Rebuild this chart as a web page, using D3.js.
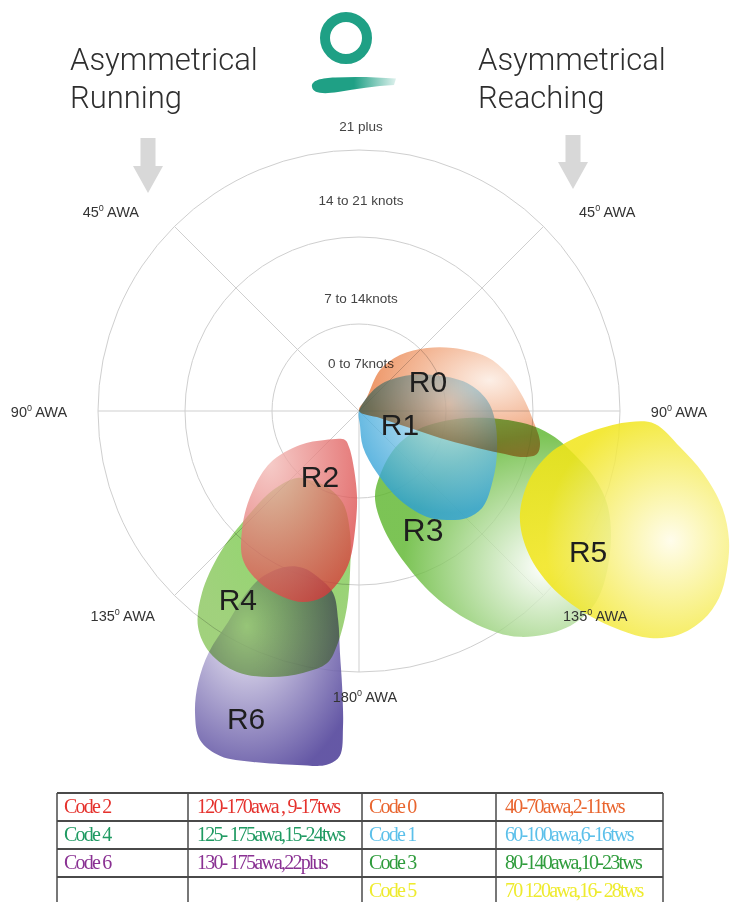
<!DOCTYPE html>
<html>
<head>
<meta charset="utf-8">
<script src="https://cdn.jsdelivr.net/npm/d3@7"></script>
<style>
  body { margin: 0; background: #fff; }
  svg { display: block; }
</style>
</head>
<body>
<div id="chart"></div>
<script>
var svgWidth = 730;
var svgHeight = 902;

// polar chart centre and speed scale (knots -> px)
var cx = 359, cy = 411;

// ---- data ----
var rings = [7, 14, 21];
var ringLabels = ["0 to 7knots", "7 to 14knots", "14 to 21 knots", "21 plus"];
var spokes = [45, 90, 135, 180];
var awaTicks = ["45", "90", "135", "180"];

var codes = ["R0", "R1", "R2", "R3", "R4", "R5", "R6"];
// +1 = reaching side (right), -1 = running side (left)
var sides = [1, 1, -1, 1, -1, 1, -1];

// region outlines as [awa deg, tws knots]
var r0Shape = [[90, 0], [29.7, 1.3], [27.1, 3.7], [36.2, 5.58], [47.2, 7.46], [56.2, 9.1], [67.1, 11.18],
  [75.6, 12.29], [85.1, 13.24], [93, 14.02], [100, 14.79], [103.6, 14.73], [105.5, 13.86],
  [106.6, 11.84], [107.5, 9.36], [108.4, 6.87], [108.4, 4.33], [108.4, 1.78]];
var r1Shape = [[90, 0], [36.9, 2.41], [50.3, 4.28], [64.1, 6.62], [75.5, 8.98], [85.1, 10.33], [93.8, 10.96],
  [106.9, 11.6], [117.2, 12.12], [127.7, 12.61], [134.7, 12.23], [141.1, 11.27], [147.3, 10.13],
  [155.3, 7.88], [163.8, 5.2], [173.7, 2.91], [176, 1.13]];
var r2Shape = [[154.2, 2.59], [130.5, 3.6], [120, 5.48], [120.3, 8.29], [128.3, 11.17], [135.5, 13.43],
  [142.1, 15.19], [150.1, 15.97], [157.8, 16.16], [163.7, 16.01], [169.05, 15.24], [173.6, 13.68],
  [176.5, 12.01], [178.1, 9.58], [178.7, 6.92], [173.4, 4.21], [164.5, 3.01]];
var r3Shape = [[108.1, 4.91], [97.7, 6.58], [93.7, 8.71], [93.2, 11.36], [94.9, 14.05], [97.6, 15.91],
  [101.5, 17.73], [105.7, 19.64], [111.1, 21.47], [119.5, 23.2], [128.9, 24.49], [136.3, 24.13],
  [144.5, 22.32], [150.3, 20.0], [157.1, 16.51], [163.2, 12.78], [168.3, 9.53], [169.5, 7.04],
  [161.8, 5.42], [135.8, 4.15]];
var r4Shape = [[137.2, 7.34], [132.6, 9.4], [133.4, 12.41], [135.6, 15.99], [139.2, 19.34], [143.3, 21.67],
  [148.4, 22.86], [154.95, 23.18], [161.5, 22.57], [167.9, 21.55], [172.8, 20.44], [174.8, 18.74],
  [176.5, 15.8], [176.8, 12.81], [175.8, 9.84], [170.1, 7.51], [157.2, 6.63], [144.6, 6.81]];
var r5Shape = [[122.9, 15.42], [111.4, 14.78], [103.1, 15.61], [98.5, 16.92], [94.6, 19.05], [92.3, 21.82],
  [92.5, 23.84], [96.4, 25.99], [100.2, 28.12], [104.8, 30.21], [109.2, 31.52], [113.4, 32.25],
  [117.4, 32.64], [121.3, 32.38], [125.1, 31.36], [127.95, 29.69], [130, 27.41], [132, 23.93],
  [132.3, 20.56], [129.6, 17.54]];
var r6Shape = [[154.6, 13.89], [149.7, 15.47], [148.2, 17.41], [148.2, 19.98], [148.1, 22.84], [149.4, 25.43],
  [151.5, 27.65], [154.2, 29.4], [158.1, 29.92], [163.2, 29.5], [170.1, 28.91], [174.8, 28.59],
  [176.8, 27.8], [177.1, 25.45], [176.5, 22.24], [175.5, 19.53], [174.3, 16.9], [171.9, 14.79],
  [166.1, 13.76], [160.4, 13.41]];
var shapes = [r0Shape, r1Shape, r2Shape, r3Shape, r4Shape, r5Shape, r6Shape];

// label anchor of each region [awa, tws]
var labelPoints = [[66.5, 6.05], [107.6, 3.46], [149, 6.1], [151.7, 10.87], [147.2, 17.99], [121.4, 21.6], [159.8, 26.32]];

var tableCodes = ["Code 2", "Code 4", "Code 6", "", "Code 0", "Code 1", "Code 3", "Code 5"];
var tableRanges = ["120-170awa , 9-17tws", "125- 175awa,15-24tws", "130- 175awa,22plus", "",
  "40-70awa,2-11tws", "60-100awa,6-16tws", "80-140awa,10-23tws", "70 120awa,16- 28tws"];

// ---- styles ----
var regionColors = {
  R0: ["#fcebe0", "#e8773a"],
  R1: ["#d6eef9", "#2d9fd6"],
  R2: ["#f3bcb8", "#d93a3a"],
  R3: ["#ffffff", "#5bb52b"],
  R4: ["#74cf48", "#8cc760"],
  R5: ["#fffce8", "#f1e518"],
  R6: ["#f0edf7", "#4a3b96"]
};
var gradCentres = {
  R0: [0.72, 0.3, 0.7], R1: [0.65, 0.2, 0.75], R2: [0.25, 0.15, 0.95], R3: [0.72, 0.68, 0.6],
  R4: [0.65, 0.15, 0.75], R5: [0.72, 0.55, 0.6], R6: [0.35, 0.3, 0.8]
};
var regionOpacity = { R0: 0.8, R1: 0.8, R2: 0.78, R3: 0.8, R4: 0.82, R5: 0.85, R6: 0.85 };
var regionBlend = { R0: "multiply", R1: "normal", R2: "normal", R3: "normal", R4: "multiply", R5: "normal", R6: "normal" };
var tableColors = ["#e5322d", "#1f9a62", "#8a3193", "#000", "#e9652f", "#5cc0ea", "#2f9c3c", "#eeeb2e"];

var rScale = d3.scaleLinear().domain([0, 21]).range([0, 261]);
var rad = Math.PI / 180;

var svg = d3.select("#chart")
  .append("svg")
  .attr("width", svgWidth)
  .attr("height", svgHeight);

var defs = svg.append("defs");

// titles
var titles = [["Asymmetrical", "Running", 70], ["Asymmetrical", "Reaching", 478]];
titles.forEach(function(t) {
  var tx = svg.append("text")
    .attr("x", t[2])
    .attr("y", 70)
    .attr("font-family", "Roboto, sans-serif")
    .attr("font-weight", 300)
    .attr("font-size", 31)
    .attr("fill", "#2e2e2e");
  tx.append("tspan").attr("x", t[2]).text(t[0]);
  tx.append("tspan").attr("x", t[2]).attr("dy", 38).text(t[1]);
});

// logo
svg.append("circle")
  .attr("cx", 346).attr("cy", 38).attr("r", 21)
  .attr("fill", "none").attr("stroke", "#1fa085").attr("stroke-width", 10);
var brushGrad = defs.append("linearGradient").attr("id", "brush");
brushGrad.append("stop").attr("offset", "0").attr("stop-color", "#1fa085");
brushGrad.append("stop").attr("offset", "0.5").attr("stop-color", "#1fa085");
brushGrad.append("stop").attr("offset", "1").attr("stop-color", "#1fa085").attr("stop-opacity", 0.15);
svg.append("path")
  .attr("d", "M312,87 C311,80 322,78 335,77.5 C355,76.5 375,77 396,78.5 L394,85 C375,86 356,89 338,92 C322,94.5 313,93 312,87 Z")
  .attr("fill", "url(#brush)");

// arrows
[[148, 138, 193], [573, 135, 189]].forEach(function(a) {
  var x = a[0], top = a[1], tip = a[2], head = tip - 27;
  svg.append("path")
    .attr("d", "M" + (x - 7.5) + "," + top + "H" + (x + 7.5) + "V" + head + "H" + (x + 15) +
      "L" + x + "," + tip + "L" + (x - 15) + "," + head + "H" + (x - 7.5) + "Z")
    .attr("fill", "#d8d8d8");
});

var chartGroup = svg.append("g")
  .attr("transform", "translate(" + cx + "," + cy + ")");

// grid rings
chartGroup.selectAll(".ring")
  .data(rings)
  .enter()
  .append("circle")
  .attr("r", d => rScale(d))
  .attr("fill", "none")
  .attr("stroke", "#cfcfcf")
  .attr("stroke-width", 1);

// spokes (both sides)
var spokeAngles = [];
spokes.forEach(function(s) {
  spokeAngles.push(s);
  if (s !== 180) spokeAngles.push(-s);
});
chartGroup.selectAll(".spoke")
  .data(spokeAngles)
  .enter()
  .append("line")
  .attr("x1", 0).attr("y1", 0)
  .attr("x2", d => d3.pointRadial(d * rad, rScale(21))[0])
  .attr("y2", d => d3.pointRadial(d * rad, rScale(21))[1])
  .attr("stroke", "#cfcfcf")
  .attr("stroke-width", 1);

// ring labels
var ringLabelR = [48, 113, 211, 285];
chartGroup.selectAll(".ringLabel")
  .data(ringLabels)
  .enter()
  .append("text")
  .attr("x", 2)
  .attr("y", (d, i) => -ringLabelR[i])
  .attr("dy", "0.35em")
  .attr("text-anchor", "middle")
  .attr("font-family", "Liberation Sans, Arial, sans-serif")
  .attr("font-size", 13.5)
  .attr("fill", "#444")
  .text(d => d);

// awa labels
var awaPlace = [[51.3, 318], [90.2, 320], [131, 313], [178.8, 286]];
var awaLabels = [];
awaTicks.forEach(function(t, i) {
  awaLabels.push({ text: t, a: awaPlace[i][0], r: awaPlace[i][1] });
  if (t !== "180") awaLabels.push({ text: t, a: -awaPlace[i][0], r: awaPlace[i][1] });
});

// region gradients
codes.forEach(function(c) {
  var g = gradCentres[c];
  var grad = defs.append("radialGradient")
    .attr("id", "grad" + c)
    .attr("cx", g[0]).attr("cy", g[1]).attr("r", g[2])
    .attr("fx", g[0]).attr("fy", g[1]);
  grad.append("stop").attr("offset", "0").attr("stop-color", regionColors[c][0]);
  grad.append("stop").attr("offset", "1").attr("stop-color", regionColors[c][1]);
});

// regions
var drawOrder = [3, 5, 1, 0, 6, 4, 2];
var regionGroup = chartGroup.append("g");
regionGroup.selectAll("path")
  .data(drawOrder)
  .enter()
  .append("path")
  .attr("d", function(i) {
    var line = d3.lineRadial()
      .angle(d => sides[i] * d[0] * rad)
      .radius(d => rScale(d[1]))
      .curve(d3.curveCatmullRomClosed.alpha(0.5));
    return line(shapes[i]);
  })
  .attr("fill", i => "url(#grad" + codes[i] + ")")
  .attr("fill-opacity", i => regionOpacity[codes[i]])
  .style("mix-blend-mode", i => regionBlend[codes[i]]);

var awaText = chartGroup.selectAll(".awa")
  .data(awaLabels)
  .enter()
  .append("text")
  .attr("x", d => d3.pointRadial(d.a * rad, d.r)[0])
  .attr("y", d => d3.pointRadial(d.a * rad, d.r)[1])
  .attr("dy", "0.35em")
  .attr("text-anchor", "middle")
  .attr("font-family", "Liberation Sans, Arial, sans-serif")
  .attr("font-size", 14.5)
  .attr("fill", "#333");
awaText.append("tspan").text(d => d.text);
awaText.append("tspan").attr("font-size", 9).attr("dy", -6).text("0");
awaText.append("tspan").attr("dy", 6).text(" AWA");

// region labels
chartGroup.selectAll(".regionLabel")
  .data(codes)
  .enter()
  .append("text")
  .attr("x", (d, i) => d3.pointRadial(sides[i] * labelPoints[i][0] * rad, rScale(labelPoints[i][1]))[0])
  .attr("y", (d, i) => d3.pointRadial(sides[i] * labelPoints[i][0] * rad, rScale(labelPoints[i][1]))[1])
  .attr("dy", "0.36em")
  .attr("text-anchor", "middle")
  .attr("font-family", "Liberation Sans, Arial, sans-serif")
  .attr("font-size", d => (d === "R3" ? 32 : 30))
  .attr("fill", "#1e1e1e")
  .text(d => d);

// table
var colX = [57, 188, 362, 496, 663];
var rowY = [793, 821, 849, 877];
var tableBottom = 906;
var tableGroup = svg.append("g");

rowY.forEach(function(y) {
  tableGroup.append("line")
    .attr("x1", colX[0]).attr("x2", colX[4])
    .attr("y1", y).attr("y2", y)
    .attr("stroke", "#4a4a4a").attr("stroke-width", 1.8);
});
colX.forEach(function(x) {
  tableGroup.append("line")
    .attr("x1", x).attr("x2", x)
    .attr("y1", rowY[0]).attr("y2", tableBottom)
    .attr("stroke", "#4a4a4a").attr("stroke-width", 1.5);
});

tableGroup.selectAll(".code")
  .data(tableCodes)
  .enter()
  .append("text")
  .attr("x", (d, i) => colX[i < 4 ? 0 : 2] + 7)
  .attr("y", (d, i) => rowY[i % 4] + 20)
  .attr("font-family", "Liberation Serif, Times New Roman, serif")
  .attr("font-size", 20)
  .attr("letter-spacing", -1.8)
  .attr("fill", (d, i) => tableColors[i])
  .text(d => d);

tableGroup.selectAll(".range")
  .data(tableRanges)
  .enter()
  .append("text")
  .attr("x", (d, i) => colX[i < 4 ? 1 : 3] + 9)
  .attr("y", (d, i) => rowY[i % 4] + 20)
  .attr("font-family", "Liberation Serif, Times New Roman, serif")
  .attr("font-size", 20)
  .attr("letter-spacing", -1.8)
  .attr("fill", (d, i) => tableColors[i])
  .text(d => d);
</script>
</body>
</html>
